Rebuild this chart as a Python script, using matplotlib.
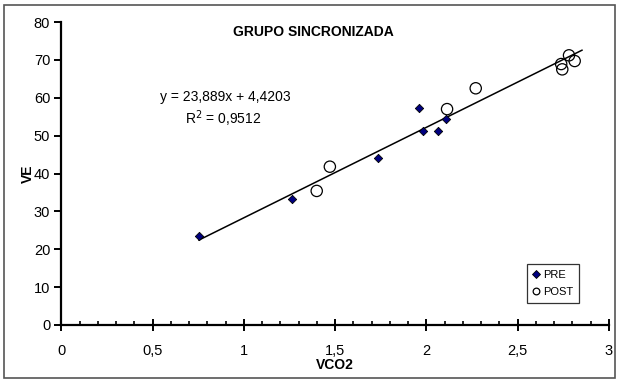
import matplotlib
matplotlib.use("Agg")
import matplotlib.pyplot as plt
from matplotlib.patches import Rectangle
from matplotlib.lines import Line2D
import numpy as np

plt.rcParams['font.family'] = ['Liberation Sans', 'DejaVu Sans']

# VCO2 / VE measurements
pre_vco2 = [0.754, 1.263, 1.732, 1.960, 1.983, 2.066, 2.105]
pre_ve = [23.5, 33.2, 44.1, 57.4, 51.1, 51.2, 54.5]
post_vco2 = [1.399, 1.471, 2.113, 2.270, 2.738, 2.744, 2.781, 2.812]
post_ve = [35.4, 41.8, 57.0, 62.5, 68.9, 67.5, 71.2, 69.7]

# linear trend fitted to both groups
slope = 23.889
intercept = 4.4203
r_squared = 0.9512

x_ticks = [0, 0.5, 1, 1.5, 2, 2.5, 3]
x_tick_labels = ["0", "0,5", "1", "1,5", "2", "2,5", "3"]
y_ticks = [0, 10, 20, 30, 40, 50, 60, 70, 80]

fig = plt.figure(figsize=(6.2, 3.81), dpi=100)
ax = fig.add_axes([61.3 / 620, 1 - 325 / 381, (609 - 61.3) / 620, (325 - 22) / 381])

# outer chart frame
fig.patches.append(Rectangle((4 / 620, 3 / 381), 611 / 620, 373 / 381,
                             transform=fig.transFigure, fill=False,
                             edgecolor='#555555', linewidth=1.2))

all_x = pre_vco2 + post_vco2
xs = np.array([min(all_x), max(all_x) + 0.04])
ax.plot(xs, slope * xs + intercept, color='black', linewidth=1.1, zorder=2)

ax.scatter(pre_vco2, pre_ve, marker='D', s=18, facecolor='#000080',
           edgecolor='black', linewidth=0.6, zorder=3)
ax.scatter(post_vco2, post_ve, marker='o', s=66, facecolor='none',
           edgecolor='black', linewidth=0.9, zorder=3)

ax.set_xlim(0, 3)
ax.set_ylim(0, 80)
ax.spines['top'].set_visible(False)
ax.spines['right'].set_visible(False)
for s in ('left', 'bottom'):
    ax.spines[s].set_linewidth(1.6)

ax.set_xticks(x_ticks)
ax.set_xticklabels(x_tick_labels)
ax.set_xticks(np.arange(0, 3.01, 0.1), minor=True)
ax.set_yticks(y_ticks)
ax.tick_params(axis='x', which='major', direction='inout', length=8, width=1.4,
               labelsize=10.5, pad=10)
ax.tick_params(axis='x', which='minor', direction='in', length=3, width=1.2)
ax.tick_params(axis='y', which='major', direction='out', length=5, width=1.4,
               labelsize=10.5, pad=3)

ax.set_xlabel("VCO2", fontsize=10, fontweight='bold', labelpad=0)
ax.set_ylabel("VE", fontsize=10, fontweight='bold', labelpad=-1)

ax.set_title("GRUPO SINCRONIZADA", fontsize=10, fontweight='bold', x=0.46, y=0.925)

eq = f"y = {slope:.3f}x + {intercept:.4f}".replace('.', ',')
ax.text(0.30, 0.752, eq, transform=ax.transAxes, ha='center', va='center', fontsize=10)
ax.text(0.295, 0.682, r"R$^2$ = " + f"{r_squared:.4f}".replace('.', ','),
        transform=ax.transAxes, ha='center', va='center', fontsize=10)

handles = [
    Line2D([], [], marker='D', linestyle='none', markersize=3.8,
           markerfacecolor='#000080', markeredgecolor='black', markeredgewidth=0.6),
    Line2D([], [], marker='o', linestyle='none', markersize=4.8,
           markerfacecolor='none', markeredgecolor='black', markeredgewidth=0.9),
]
leg = ax.legend(handles, ["PRE", "POST"], loc='upper left',
                bbox_to_anchor=((526.7 - 61.3) / (609 - 61.3), (325 - 264) / 303),
                fontsize=8, frameon=True, fancybox=False, handlelength=0.6,
                handletextpad=0.3, borderpad=0.55, labelspacing=0.6,
                borderaxespad=0)
leg.get_frame().set_edgecolor('black')
leg.get_frame().set_linewidth(0.9)

fig.savefig("out.png", dpi=100)
